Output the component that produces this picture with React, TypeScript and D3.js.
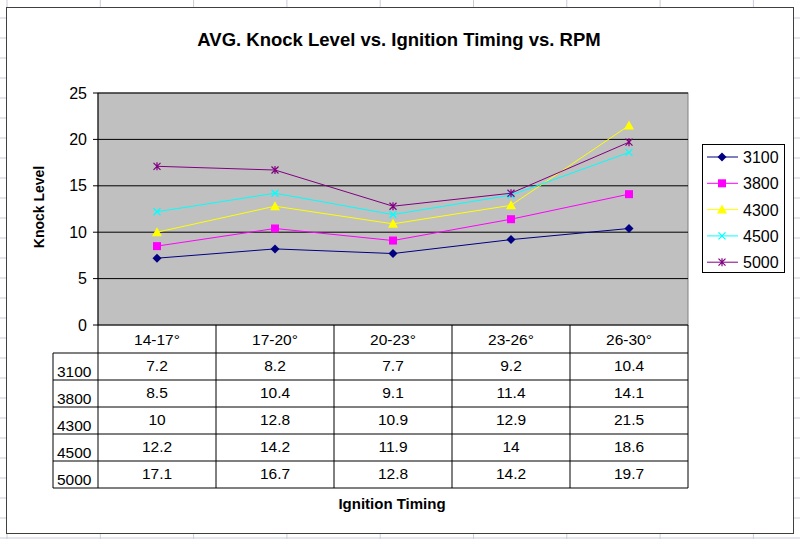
import React from 'react';
import * as d3 from 'd3';

const categories = ['14-17°', '17-20°', '20-23°', '23-26°', '26-30°'];
const seriesNames = ['3100', '3800', '4300', '4500', '5000'];
const rpm3100 = [7.2, 8.2, 7.7, 9.2, 10.4];
const rpm3800 = [8.5, 10.4, 9.1, 11.4, 14.1];
const rpm4300 = [10, 12.8, 10.9, 12.9, 21.5];
const rpm4500 = [12.2, 14.2, 11.9, 14, 18.6];
const rpm5000 = [17.1, 16.7, 12.8, 14.2, 19.7];
const yTicks = [0, 5, 10, 15, 20, 25];

const seriesValues = [rpm3100, rpm3800, rpm4300, rpm4500, rpm5000];
const colors = ['#000080', '#FF00FF', '#FFFF00', '#00FFFF', '#800080'];
const markers = ['diamond', 'square', 'triangle', 'x', 'star'];

const W = 800;
const H = 539;
const font = 'Arial, "Liberation Sans", sans-serif';

// plot area
const plotL = 98, plotR = 688, plotT = 93, plotB = 325;
const x = d3.scaleBand<string>().domain(categories).range([plotL, plotR]);
const y = d3.scaleLinear().domain([0, 25]).range([plotB, plotT]);

// table rows
const headerB = 353;
const rowH = 27;
const labelL = 53;

const Marker: React.FC<{ kind: string; cx: number; cy: number; color: string }> = ({ kind, cx, cy, color }) => {
  if (kind === 'diamond') {
    return <path d={`M${cx},${cy - 4.5}L${cx + 4.5},${cy}L${cx},${cy + 4.5}L${cx - 4.5},${cy}Z`} fill={color} />;
  }
  if (kind === 'square') {
    return <rect x={cx - 4} y={cy - 4} width={8} height={8} fill={color} />;
  }
  if (kind === 'triangle') {
    return <path d={`M${cx},${cy - 5}L${cx + 5},${cy + 4}L${cx - 5},${cy + 4}Z`} fill={color} />;
  }
  if (kind === 'x') {
    return (
      <path d={`M${cx - 3.5},${cy - 3.5}L${cx + 3.5},${cy + 3.5}M${cx - 3.5},${cy + 3.5}L${cx + 3.5},${cy - 3.5}`} stroke={color} strokeWidth={1.3} fill="none" />
    );
  }
  return (
    <path
      d={`M${cx - 3.5},${cy - 3.5}L${cx + 3.5},${cy + 3.5}M${cx - 3.5},${cy + 3.5}L${cx + 3.5},${cy - 3.5}M${cx},${cy - 4}L${cx},${cy + 4}`}
      stroke={color}
      strokeWidth={1.2}
      fill="none"
    />
  );
};

const App: React.FC = () => {
  const line = d3
    .line<number>()
    .x((_, i) => x(categories[i])! + x.bandwidth() / 2)
    .y((d) => y(d));

  const colLines = d3.range(7, W, 93.3);
  const rowLines = d3.range(-2, H, 20);
  const tableBottom = headerB + rowH * seriesNames.length;

  return (
    <svg width={W} height={H} style={{ position: 'absolute', left: 0, top: 0, display: 'block' }} fontFamily={font}>
      <rect width={W} height={H} fill="#fff" />
      {/* spreadsheet grid behind the chart */}
      {colLines.map((cx, i) => (
        <line key={'c' + i} x1={cx} x2={cx} y1={0} y2={H} stroke="#c8cdd6" />
      ))}
      {rowLines.map((ry, i) => (
        <line key={'r' + i} x1={0} x2={W} y1={ry} y2={ry} stroke="#c8cdd6" />
      ))}

      {/* chart area */}
      <rect x={6.5} y={7.5} width={787} height={526} fill="#fff" stroke="#404040" />

      <text x={399} y={46} textAnchor="middle" fontSize={18.5} fontWeight="bold">
        AVG. Knock Level vs. Ignition Timing vs. RPM
      </text>

      {/* plot area */}
      <rect x={plotL} y={plotT} width={plotR - plotL} height={plotB - plotT} fill="#C0C0C0" stroke="#808080" />
      {yTicks.map((t) => (
        <g key={t}>
          {t > 0 && <line x1={plotL} x2={plotR} y1={y(t)} y2={y(t)} stroke="#000" />}
          <line x1={plotL - 5} x2={plotL} y1={y(t)} y2={y(t)} stroke="#000" />
          <text x={plotL - 11} y={y(t) + 5.5} textAnchor="end" fontSize={16}>
            {t}
          </text>
        </g>
      ))}
      <line x1={plotL} x2={plotL} y1={plotT} y2={plotB} stroke="#000" />
      <line x1={plotL} x2={plotR} y1={plotB} y2={plotB} stroke="#000" />

      <text transform={`translate(44,207) rotate(-90)`} textAnchor="middle" fontSize={14} fontWeight="bold">
        Knock Level
      </text>

      {seriesValues.map((vals, si) => (
        <g key={si}>
          <path d={line(vals)!} fill="none" stroke={colors[si]} strokeWidth={1} />
          {vals.map((v, i) => (
            <Marker key={i} kind={markers[si]} cx={x(categories[i])! + x.bandwidth() / 2} cy={y(v)} color={colors[si]} />
          ))}
        </g>
      ))}

      {/* data table */}
      <g stroke="#000" fill="none">
        {categories.map((c, i) => (
          <line key={c} x1={x(c)!} x2={x(c)!} y1={plotB} y2={tableBottom} />
        ))}
        <line x1={plotR} x2={plotR} y1={plotB} y2={tableBottom} />
        <line x1={labelL} x2={labelL} y1={headerB} y2={tableBottom} />
        {d3.range(seriesNames.length + 1).map((r) => (
          <line key={r} x1={labelL} x2={plotR} y1={headerB + r * rowH} y2={headerB + r * rowH} />
        ))}
      </g>
      {categories.map((c) => (
        <text key={c} x={x(c)! + x.bandwidth() / 2} y={345} textAnchor="middle" fontSize={15.5}>
          {c}
        </text>
      ))}
      {seriesNames.map((s, r) => (
        <g key={s}>
          <text x={labelL + 4} y={headerB + r * rowH + 24} fontSize={15.5}>
            {s}
          </text>
          {seriesValues[r].map((v, i) => (
            <text key={i} x={x(categories[i])! + x.bandwidth() / 2} y={headerB + r * rowH + 18} textAnchor="middle" fontSize={15.5}>
              {v}
            </text>
          ))}
        </g>
      ))}

      <text x={392} y={509} textAnchor="middle" fontSize={15} fontWeight="bold">
        Ignition Timing
      </text>

      {/* legend */}
      <rect x={702.5} y={144.5} width={82} height={128} fill="#fff" stroke="#000" />
      {seriesNames.map((s, i) => {
        const ly = 157 + i * 26.3;
        return (
          <g key={s}>
            <line x1={707} x2={738} y1={ly} y2={ly} stroke={colors[i]} />
            <Marker kind={markers[i]} cx={722} cy={ly} color={colors[i]} />
            <text x={743} y={ly + 6} fontSize={16}>
              {s}
            </text>
          </g>
        );
      })}
    </svg>
  );
};

export default App;
